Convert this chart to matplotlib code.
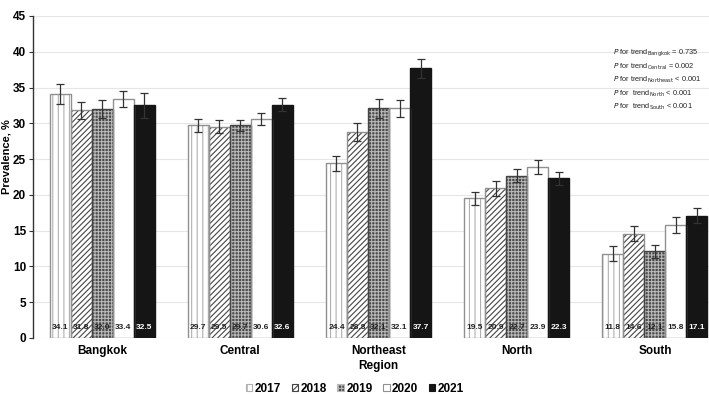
import matplotlib
matplotlib.use("Agg")
import matplotlib.pyplot as plt
import numpy as np

plt.rcParams['font.family'] = ['Liberation Sans', 'DejaVu Sans']
plt.rcParams['hatch.linewidth'] = 0.8

regions = ["Bangkok", "Central", "Northeast", "North", "South"]
years = ["2017", "2018", "2019", "2020", "2021"]
values = {
    "2017": [34.1, 29.7, 24.4, 19.5, 11.8],
    "2018": [31.8, 29.5, 28.8, 20.9, 14.6],
    "2019": [32.0, 29.7, 32.1, 22.7, 12.1],
    "2020": [33.4, 30.6, 32.1, 23.9, 15.8],
    "2021": [32.5, 32.6, 37.7, 22.3, 17.1],
}
errors = {
    "2017": [1.4, 0.9, 1.0, 0.9, 1.1],
    "2018": [1.2, 0.9, 1.2, 1.0, 1.0],
    "2019": [1.2, 0.8, 1.3, 0.9, 0.9],
    "2020": [1.1, 0.8, 1.2, 1.0, 1.1],
    "2021": [1.7, 0.9, 1.3, 0.9, 1.0],
}
trend_notes = [
    r"$\it{P}$ for trend$_{\mathrm{Bangkok}}$ = 0.735",
    r"$\it{P}$ for trend$_{\mathrm{Central}}$ = 0.002",
    r"$\it{P}$ for trend$_{\mathrm{Northeast}}$ < 0.001",
    r"$\it{P}$ for  trend$_{\mathrm{North}}$ < 0.001",
    r"$\it{P}$ for  trend$_{\mathrm{South}}$ < 0.001",
]

styles = {
    "2017": dict(face="white", hatch="|||", hcol="#b0b0b0", edge="#909090", txt="#222222"),
    "2018": dict(face="white", hatch="//////", hcol="#444444", edge="#909090", txt="#222222"),
    "2019": dict(face="#4a4a4a", hatch="+++++", hcol="#b8b8b8", edge="#444444", txt="#222222"),
    "2020": dict(face="white", hatch=None, hcol="#909090", edge="#909090", txt="#222222"),
    "2021": dict(face="#151515", hatch=None, hcol="#151515", edge="#151515", txt="white"),
}

fig = plt.figure(figsize=(7.09, 3.95), dpi=100)
ax = fig.add_axes([33/709, 57/395, 691/709, 322/395])

x = np.arange(len(regions))
w = 0.152
handles = []
for i, yr in enumerate(years):
    st = styles[yr]
    pos = x + (i - 2) * w
    ax.bar(pos, values[yr], w, color=st["face"], hatch=st["hatch"],
           edgecolor=st["hcol"], linewidth=0, zorder=2)
    ax.bar(pos, values[yr], w, fill=False, edgecolor=st["edge"], linewidth=1.0, zorder=3)
    ax.errorbar(pos, values[yr], yerr=errors[yr], fmt="none", ecolor="#333333",
                elinewidth=0.9, capsize=3, capthick=0.9, zorder=4)
    for p, v in zip(pos, values[yr]):
        ax.text(p, 1.5, f"{v:.1f}", ha="center", va="center", fontsize=6,
                fontweight="bold", color=st["txt"], zorder=5)
    h = plt.Rectangle((0, 0), 1, 1, facecolor=st["face"], hatch=st["hatch"],
                      edgecolor=st["edge"] if st["hatch"] is None else st["hcol"], linewidth=0.8)
    handles.append(h)

ax.set_xlim(-0.5, 4.5)
ax.set_ylim(0, 45)
ax.set_yticks(np.arange(0, 46, 5))
ax.yaxis.grid(True, color="#e6e6e6", linewidth=0.8, zorder=0)
ax.set_axisbelow(True)
for s in ["top", "right", "bottom"]:
    ax.spines[s].set_visible(False)
ax.spines["left"].set_color("#333333")
ax.spines["left"].set_linewidth(1.0)
ax.set_xticks(x)
ax.set_xticklabels(regions, fontsize=8.5, fontweight="bold")
ax.tick_params(axis="x", length=0, pad=5)
ax.tick_params(axis="y", labelsize=8.5, length=3, pad=2, color="#333333")
for lab in ax.get_yticklabels():
    lab.set_fontweight("bold")
ax.set_ylabel("Prevalence, %", fontsize=8, fontweight="bold")
ax.yaxis.set_label_coords(-21/691, (338 - 157)/322)
ax.set_xlabel("Region", fontsize=8.5, fontweight="bold", labelpad=2)

for k, t in enumerate(trend_notes):
    fig.text(613/709, 1 - (53 + 13.5 * k)/395, t, fontsize=5.3, ha="left", va="center",
             color="#222222")

leg = fig.legend(handles, years, loc="center", bbox_to_anchor=(355/709, 1 - 389/395),
                 ncol=5, frameon=False, handlelength=0.55, handleheight=0.55,
                 handletextpad=0.2, columnspacing=0.9, borderpad=0.1,
                 prop=dict(size=8.5, weight="bold"))

fig.savefig("out.png", dpi=100)
